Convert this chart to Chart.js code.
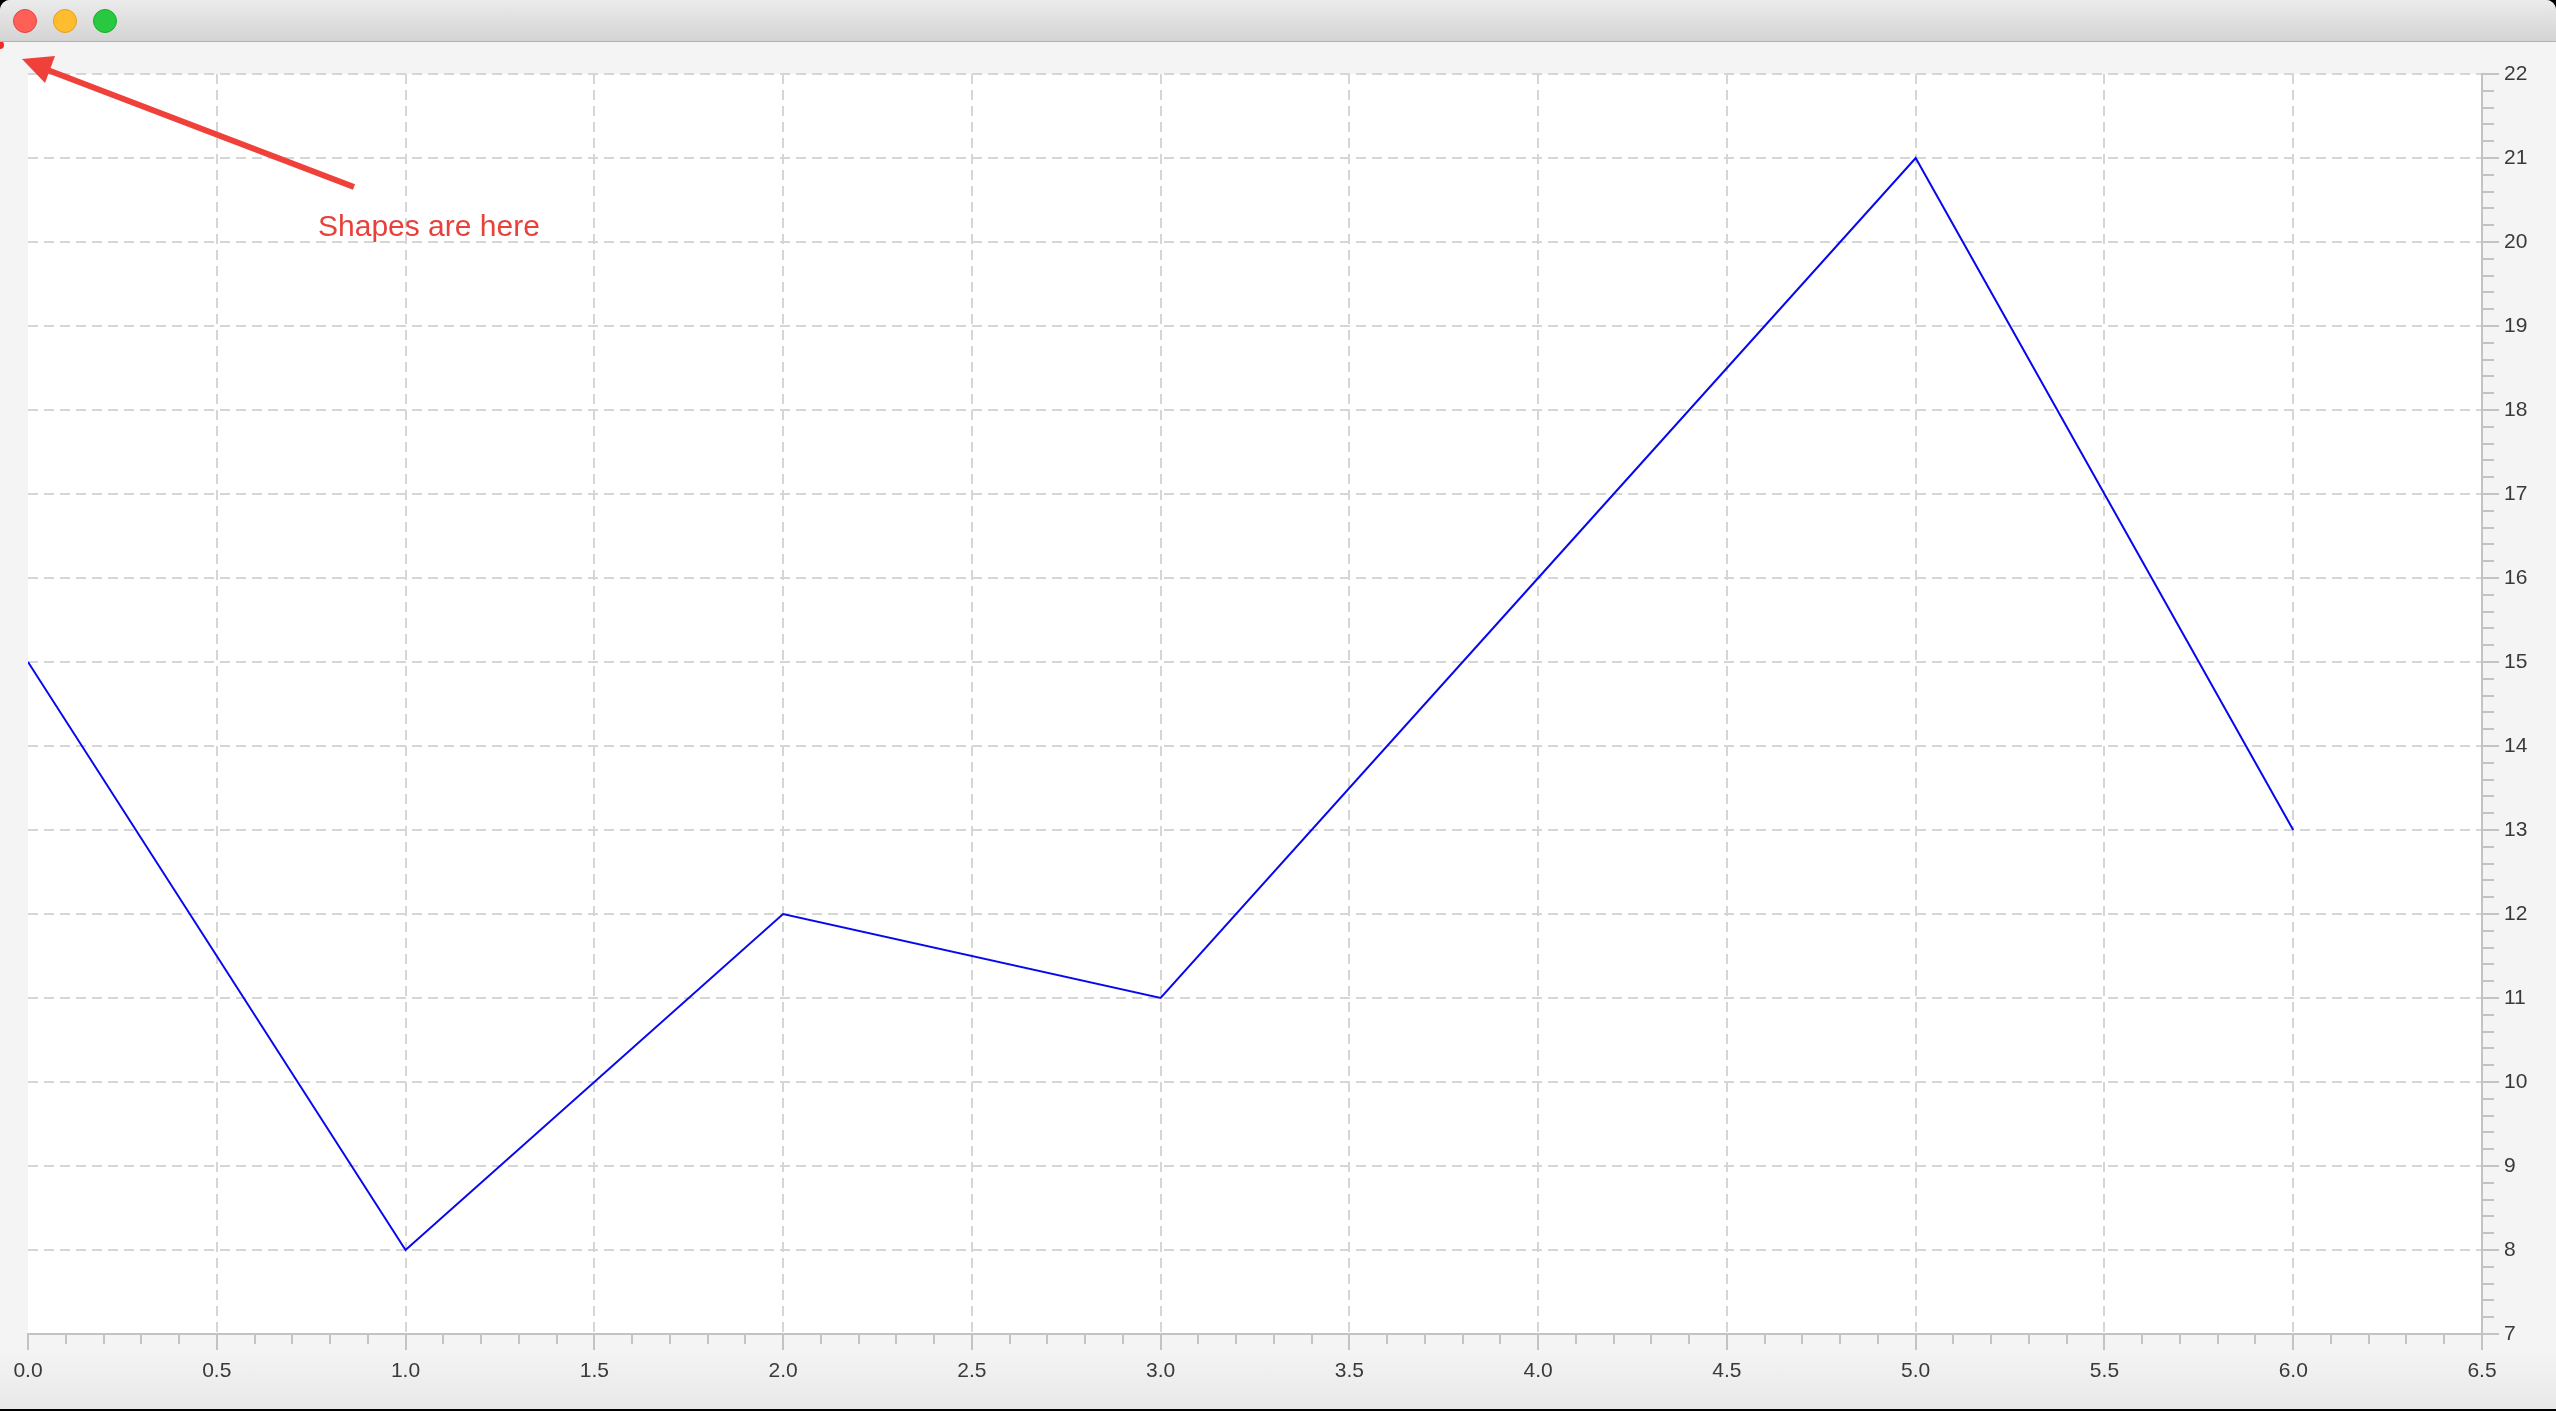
<!DOCTYPE html>
<html>
<head>
<meta charset="utf-8">
<title>Shapes</title>
<script src="https://cdn.jsdelivr.net/npm/chart.js@4.4.0/dist/chart.umd.min.js"></script>
<style>
    html, body { margin: 0; padding: 0; background: #000; }
    #win {
        position: relative; width: 2556px; height: 1409px; overflow: hidden;
        border-radius: 10px 10px 0 0;
        background: linear-gradient(#f4f4f4 0, #f4f4f4 1350px, #e8e8e8 1409px);
    }
    #titlebar {
        position: absolute; left: 0; top: 0; width: 2556px; height: 41px; z-index: 2;
        background: linear-gradient(#ebebeb, #d4d4d4);
        border-bottom: 1px solid #b1b1b1;
    }
    .btn {
        position: absolute; top: 9px; width: 24px; height: 24px;
        border-radius: 50%; box-sizing: border-box;
    }
    #myChart { position: absolute; left: 0; top: 0; }
</style>
</head>
<body>
<div id="win">
    <div id="titlebar">
        <div class="btn" style="left:13px;background:#fe5f57;border:1px solid #e2463f"></div>
        <div class="btn" style="left:53px;background:#febc2e;border:1px solid #e1a116"></div>
        <div class="btn" style="left:93px;background:#28c840;border:1px solid #14ae2a"></div>
    </div>
    <canvas id="myChart" width="2556" height="1409"></canvas>
</div>
<script>
// data
const xValues = [0, 1, 2, 3, 4, 5, 6];
const yValues = [15, 8, 12, 11, 16, 21, 13];
const xBounds = [0, 6.5];
const yBounds = [7, 22];
const xMajorStep = 0.5;
const xMinorStep = 0.1;
const yMajorStep = 1;
const yMinorStep = 0.2;
const noteText = 'Shapes are here';

function isMajor(v, step) {
    return Math.abs(v / step - Math.round(v / step)) < 1e-6;
}

const decorations = {
    id: 'decorations',
    beforeDraw(chart) {
        const {ctx, chartArea} = chart;
        ctx.save();
        ctx.fillStyle = '#ffffff';
        ctx.fillRect(chartArea.left, chartArea.top, chartArea.right - chartArea.left, chartArea.bottom - chartArea.top);
        ctx.restore();
    },
    afterDraw(chart) {
        const ctx = chart.ctx;
        ctx.save();
        // little red shape in the corner
        ctx.fillStyle = '#ee2a24';
        ctx.beginPath();
        ctx.arc(0, 45, 4, 0, Math.PI * 2);
        ctx.fill();
        // arrow
        ctx.strokeStyle = '#f0403a';
        ctx.fillStyle = '#f0403a';
        ctx.lineWidth = 6;
        ctx.beginPath();
        ctx.moveTo(354, 187);
        ctx.lineTo(45, 69);
        ctx.stroke();
        ctx.beginPath();
        ctx.moveTo(22, 59);
        ctx.lineTo(55, 56);
        ctx.lineTo(45, 83);
        ctx.closePath();
        ctx.fill();
        // text
        ctx.fillStyle = '#e8403a';
        ctx.font = '30px "Liberation Sans", Arial, sans-serif';
        ctx.textBaseline = 'alphabetic';
        ctx.fillText(noteText, 318, 236);
        ctx.restore();
    }
};

function drawChart(ctx) {
    const points = xValues.map((x, i) => ({x: x, y: yValues[i]}));
    const tickFont = {family: '"Liberation Sans", Arial, sans-serif', size: 21};

    new Chart(ctx, {
        type: 'line',
        data: {
            datasets: [{
                data: points,
                borderColor: '#0808ee',
                borderWidth: 2,
                pointRadius: 0,
                tension: 0,
                fill: false
            }]
        },
        options: {
            responsive: false,
            animation: false,
            devicePixelRatio: 1,
            layout: {padding: {left: 28, top: 74, right: 0, bottom: 0}},
            plugins: {legend: {display: false}, tooltip: {enabled: false}},
            scales: {
                x: {
                    type: 'linear',
                    position: 'bottom',
                    min: xBounds[0],
                    max: xBounds[1],
                    afterFit: s => { s.height = 75; },
                    border: {color: '#c3c3c3', width: 2, dash: [10, 6]},
                    grid: {
                        color: c => (isMajor(c.tick.value, xMajorStep) && c.tick.value > 0) ? '#d6d6d6' : 'rgba(0,0,0,0)',
                        lineWidth: 2,
                        tickColor: '#c3c3c3',
                        tickWidth: 2,
                        tickLength: 16,
                        tickBorderDash: c => isMajor(c.tick.value, xMajorStep) ? [] : [9, 200]
                    },
                    ticks: {
                        stepSize: xMinorStep,
                        maxTicksLimit: 1000,
                        autoSkip: false,
                        maxRotation: 0,
                        minRotation: 0,
                        padding: 9,
                        color: '#3a3a3a',
                        font: tickFont,
                        callback: v => isMajor(v, xMajorStep) ? v.toFixed(1) : ''
                    }
                },
                y: {
                    type: 'linear',
                    position: 'right',
                    min: yBounds[0],
                    max: yBounds[1],
                    afterFit: s => { s.width = 74; },
                    border: {color: '#c3c3c3', width: 2, dash: [10, 6]},
                    grid: {
                        color: c => (isMajor(c.tick.value, yMajorStep) && c.tick.value > yBounds[0]) ? '#d6d6d6' : 'rgba(0,0,0,0)',
                        lineWidth: 2,
                        tickColor: '#c3c3c3',
                        tickWidth: 2,
                        tickLength: 17,
                        tickBorderDash: c => isMajor(c.tick.value, yMajorStep) ? [] : [11, 200]
                    },
                    ticks: {
                        stepSize: yMinorStep,
                        maxTicksLimit: 1000,
                        autoSkip: false,
                        padding: 5,
                        color: '#3a3a3a',
                        font: tickFont,
                        callback: v => isMajor(v, yMajorStep) ? String(Math.round(v)) : ''
                    }
                }
            }
        },
        plugins: [decorations]
    });
}

drawChart(document.getElementById('myChart'));
</script>
</body>
</html>
